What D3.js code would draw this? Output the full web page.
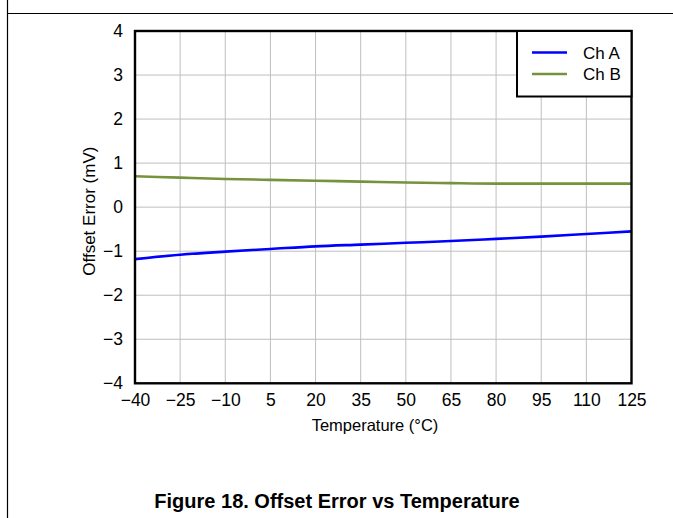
<!DOCTYPE html>
<html><head><meta charset="utf-8">
<script src="https://cdn.jsdelivr.net/npm/d3@7"></script>
<style>body{margin:0;background:#fff;}svg{display:block;font-family:"Liberation Sans",Arial,sans-serif;}</style>
</head><body>
<svg id="c" width="673" height="518"></svg>
<script>
const temps = [-40, -25, -10, 5, 20, 35, 50, 65, 80, 95, 110, 125];
const chA = [-1.18, -1.08, -1.01, -0.95, -0.89, -0.85, -0.81, -0.77, -0.72, -0.67, -0.61, -0.55];
const chB = [0.70, 0.67, 0.64, 0.62, 0.60, 0.58, 0.56, 0.545, 0.535, 0.535, 0.535, 0.535];
const xTicks = [-40, -25, -10, 5, 20, 35, 50, 65, 80, 95, 110, 125];
const yTicks = [-4, -3, -2, -1, 0, 1, 2, 3, 4];
const seriesNames = ["Ch A", "Ch B"];
const seriesColors = ["#0000ff", "#76923c"];

const svg = d3.select("#c");
const L = 135, R = 631.5, T = 31, B = 383.3;
const x = d3.scaleLinear().domain([-40, 125]).range([L, R]);
const y = d3.scaleLinear().domain([-4, 4]).range([B, T]);
const fmt = d => d < 0 ? "\u2212" + Math.abs(d) : String(d);
const FF = "Liberation Sans, Arial, sans-serif";

// outer frame
svg.append("line").attr("x1", 7.5).attr("x2", 7.5).attr("y1", 0).attr("y2", 518).attr("stroke", "#000").attr("stroke-width", 1.2);
svg.append("line").attr("x1", 7).attr("x2", 673).attr("y1", 13.5).attr("y2", 13.5).attr("stroke", "#000").attr("stroke-width", 1.2);

// grid
svg.append("g").selectAll("line").data(xTicks.slice(1, -1)).join("line")
  .attr("x1", d => x(d)).attr("x2", d => x(d)).attr("y1", T).attr("y2", B)
  .attr("stroke", "#bfbfbf").attr("stroke-width", 1);
svg.append("g").selectAll("line").data(yTicks.slice(1, -1)).join("line")
  .attr("x1", L).attr("x2", R).attr("y1", d => y(d)).attr("y2", d => y(d))
  .attr("stroke", "#bfbfbf").attr("stroke-width", 1);

// axes labels via d3 axes (no tick lines)
const xAxis = svg.append("g").attr("transform", `translate(0,${B})`)
  .call(d3.axisBottom(x).tickValues(xTicks).tickFormat(fmt).tickSize(0).tickPadding(10));
const yAxis = svg.append("g").attr("transform", `translate(${L},0)`)
  .call(d3.axisLeft(y).tickValues(yTicks).tickFormat(fmt).tickSize(0).tickPadding(12));
[xAxis, yAxis].forEach(a => {
  a.attr("font-size", 17.5).attr("font-family", FF);
  a.select(".domain").remove();
  a.selectAll("text").style("font-size", "17.5px").style("font-family", FF).attr("fill", "#000");
});
xAxis.selectAll("text").attr("dy", "0.71em");

// lines
const line = d3.line().x((d, i) => x(temps[i])).y(d => y(d)).curve(d3.curveMonotoneX);
[chA, chB].forEach((s, k) => {
  svg.append("path").datum(s).attr("d", line).attr("fill", "none")
    .attr("stroke", seriesColors[k]).attr("stroke-width", 2.6);
});

// plot border
svg.append("rect").attr("x", L).attr("y", T).attr("width", R - L).attr("height", B - T)
  .attr("fill", "none").attr("stroke", "#000").attr("stroke-width", 2.4);

// legend
const lg = svg.append("g");
lg.append("rect").attr("x", 517).attr("y", T).attr("width", R - 517).attr("height", 65.5)
  .attr("fill", "#fff").attr("stroke", "#000").attr("stroke-width", 2);
seriesNames.forEach((n, i) => {
  const yy = 52.5 + i * 21.5;
  lg.append("line").attr("x1", 532).attr("x2", 567).attr("y1", yy).attr("y2", yy)
    .attr("stroke", seriesColors[i]).attr("stroke-width", 2.6);
  lg.append("text").attr("x", 583).attr("y", yy).attr("dy", "0.36em")
    .style("font-size", "17px").text(n);
});

// axis titles
svg.append("text").attr("x", 375).attr("y", 431).attr("text-anchor", "middle")
  .style("font-size", "16.5px").text("Temperature (°C)");
svg.append("text").attr("transform", `translate(95,${(T + B) / 2 + 4}) rotate(-90)`)
  .attr("text-anchor", "middle").style("font-size", "17px").text("Offset Error (mV)");

// figure caption
svg.append("text").attr("x", 337).attr("y", 508).attr("text-anchor", "middle")
  .style("font-size", "20px").attr("font-weight", "bold").text("Figure 18. Offset Error vs Temperature");
</script>
</body></html>
